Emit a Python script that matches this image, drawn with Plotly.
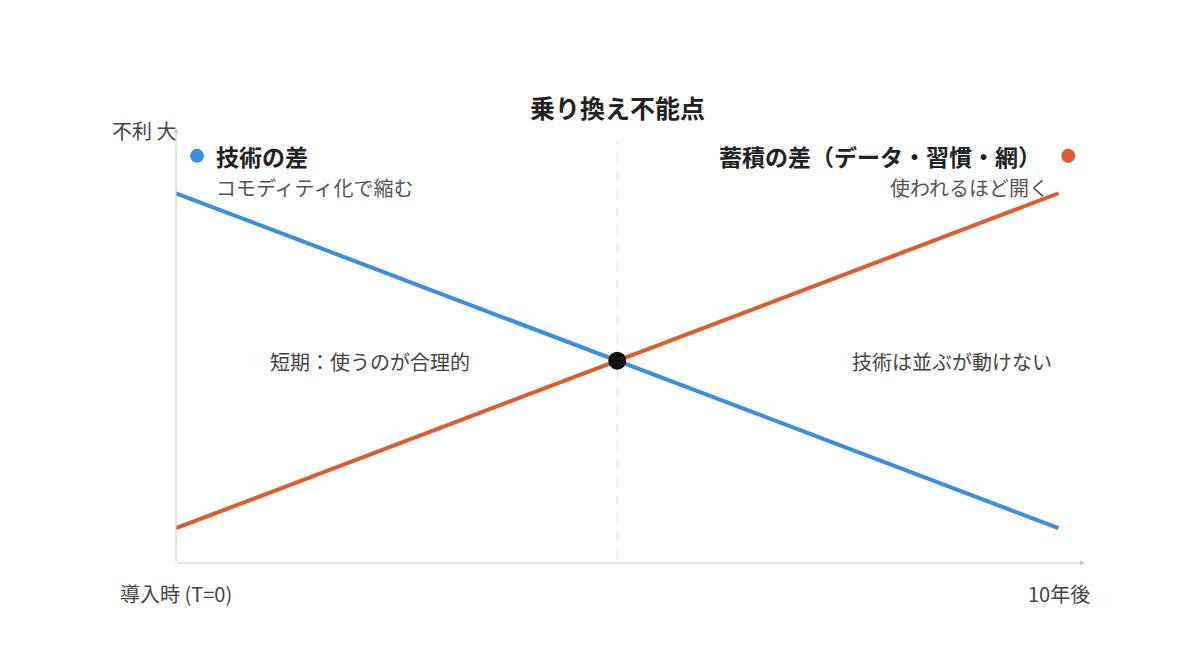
import plotly.graph_objects as go

# data
x_pts = [0, 10]
tech_gap = [85, 8]        # 技術の差: コモディティ化で縮む
stock_gap = [8, 85]       # 蓄積の差: 使われるほど開く
cross_x = [5]
cross_y = [46.5]

BLUE = "#3b8de0"
ORANGE = "#df5b2e"
FONT = "Noto Sans CJK JP"

fig = go.Figure()

# vertical dashed guide at the crossing point
fig.add_trace(go.Scatter(
    x=[5, 5], y=[1, 97], mode="lines",
    line=dict(color="#dddddd", width=1, dash="dash"),
    hoverinfo="skip", showlegend=False
))

fig.add_trace(go.Scatter(
    x=x_pts, y=tech_gap, mode="lines",
    line=dict(color=BLUE, width=4), showlegend=False
))
fig.add_trace(go.Scatter(
    x=x_pts, y=stock_gap, mode="lines",
    line=dict(color=ORANGE, width=4), showlegend=False
))
fig.add_trace(go.Scatter(
    x=cross_x, y=cross_y, mode="markers",
    marker=dict(color="#111111", size=18), showlegend=False
))

# legend dots
fig.add_trace(go.Scatter(
    x=[0.238, 10.11], y=[93.6, 93.6], mode="markers",
    marker=dict(color=[BLUE, ORANGE], size=14), showlegend=False,
    cliponaxis=False
))

# axes with arrows
fig.add_annotation(x=10.3, y=0, ax=0, ay=0, xref="x", yref="y", axref="x", ayref="y",
                   showarrow=True, arrowhead=2, arrowsize=1, arrowwidth=1,
                   arrowcolor="#c8c8c8", text="")
fig.add_annotation(x=0, y=100, ax=0, ay=0, xref="x", yref="y", axref="x", ayref="y",
                   showarrow=True, arrowhead=2, arrowsize=1, arrowwidth=1,
                   arrowcolor="#c8c8c8", text="")

# labels inside the plot (data coords)
inner = [
    (0.43, 93.6, "技術の差", "left", 23, "#222222", True),
    (0.43, 86.4, "コモディティ化で縮む", "left", 20, "#555555", False),
    (9.82, 93.6, "蓄積の差（データ・習慣・網）", "right", 23, "#222222", True),
    (9.91, 86.4, "使われるほど開く", "right", 20, "#555555", False),
    (2.2, 46.4, "短期：使うのが合理的", "center", 20, "#444444", False),
    (8.79, 46.4, "技術は並ぶが動けない", "center", 20, "#444444", False),
]
for x, y, t, anchor, size, color, bold in inner:
    fig.add_annotation(
        x=x, y=y, xref="x", yref="y", text=f"<b>{t}</b>" if bold else t,
        showarrow=False, xanchor=anchor, yanchor="middle",
        font=dict(family=FONT, size=size, color=color)
    )

# labels around the plot (paper coords)
outer = [
    (0.486, 1.048, "乗り換え不能点", "center", 25, "#222222", True),
    (0.002, 0.995, "不利 大", "right", 20, "#444444", False),
    (0.0, -0.069, "導入時 (T=0)", "center", 20, "#444444", False),
    (0.971, -0.069, "10年後", "center", 20, "#444444", False),
]
for x, y, t, anchor, size, color, bold in outer:
    fig.add_annotation(
        x=x, y=y, xref="paper", yref="paper", text=f"<b>{t}</b>" if bold else t,
        showarrow=False, xanchor=anchor, yanchor="middle",
        font=dict(family=FONT, size=size, color=color)
    )

fig.update_xaxes(range=[0, 10.3], visible=False)
fig.update_yaxes(range=[0, 100], visible=False)

fig.update_layout(
    width=1200, height=671,
    margin=dict(l=168, r=123, t=120, b=116),
    plot_bgcolor="white", paper_bgcolor="white",
    font=dict(family=FONT),
)

fig.write_html("out.html")
